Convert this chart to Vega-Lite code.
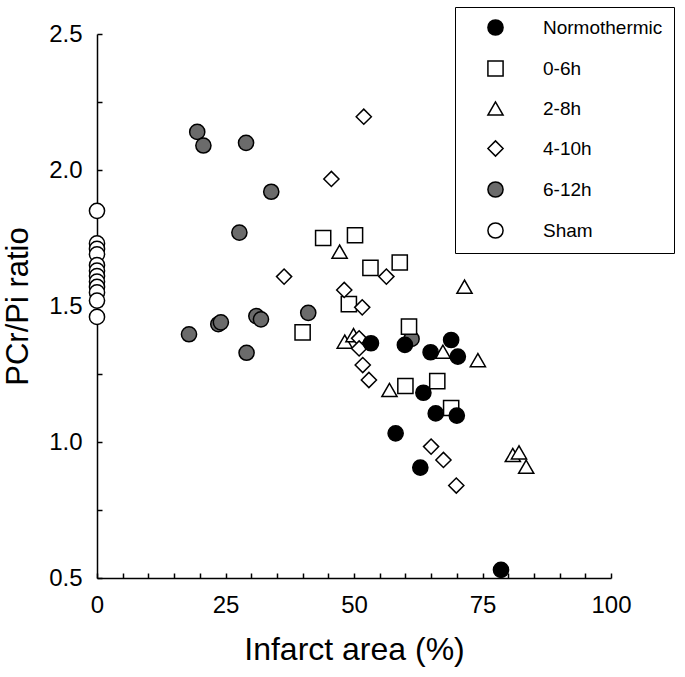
{
  "$schema": "https://vega.github.io/schema/vega-lite/v6.json",
  "autosize": "none",
  "width": 514,
  "height": 544,
  "padding": {"left": 97, "top": 34, "right": 74, "bottom": 99},
  "background": "white",
  "config": {
    "view": {"stroke": null},
    "font": "Liberation Sans",
    "axis": {
      "domainColor": "black", "domainWidth": 1.5, "tickColor": "black", "tickWidth": 1.5,
      "grid": false, "labelColor": "black", "titleColor": "black", "labelFont": "Liberation Sans",
      "titleFont": "Liberation Sans", "titleFontWeight": "normal"
    }
  },
  "data": {
    "values": [
      {"x": 0, "y": 1.85, "group": "Sham"},
      {"x": 0, "y": 1.73, "group": "Sham"},
      {"x": 0, "y": 1.71, "group": "Sham"},
      {"x": 0, "y": 1.69, "group": "Sham"},
      {"x": 0, "y": 1.65, "group": "Sham"},
      {"x": 0, "y": 1.63, "group": "Sham"},
      {"x": 0, "y": 1.61, "group": "Sham"},
      {"x": 0, "y": 1.59, "group": "Sham"},
      {"x": 0, "y": 1.57, "group": "Sham"},
      {"x": 0, "y": 1.55, "group": "Sham"},
      {"x": 0, "y": 1.52, "group": "Sham"},
      {"x": 0, "y": 1.46, "group": "Sham"},
      {"x": 19.5, "y": 2.14, "group": "6-12h"},
      {"x": 20.7, "y": 2.09, "group": "6-12h"},
      {"x": 29.0, "y": 2.10, "group": "6-12h"},
      {"x": 33.9, "y": 1.92, "group": "6-12h"},
      {"x": 27.7, "y": 1.77, "group": "6-12h"},
      {"x": 41.1, "y": 1.475, "group": "6-12h"},
      {"x": 31.0, "y": 1.463, "group": "6-12h"},
      {"x": 31.9, "y": 1.451, "group": "6-12h"},
      {"x": 23.6, "y": 1.433, "group": "6-12h"},
      {"x": 24.1, "y": 1.44, "group": "6-12h"},
      {"x": 17.9, "y": 1.396, "group": "6-12h"},
      {"x": 29.1, "y": 1.328, "group": "6-12h"},
      {"x": 61.2, "y": 1.379, "group": "6-12h"},
      {"x": 44.0, "y": 1.75, "group": "0-6h"},
      {"x": 50.2, "y": 1.76, "group": "0-6h"},
      {"x": 53.2, "y": 1.64, "group": "0-6h"},
      {"x": 58.9, "y": 1.66, "group": "0-6h"},
      {"x": 49.0, "y": 1.507, "group": "0-6h"},
      {"x": 40.0, "y": 1.403, "group": "0-6h"},
      {"x": 60.7, "y": 1.424, "group": "0-6h"},
      {"x": 60.0, "y": 1.206, "group": "0-6h"},
      {"x": 66.2, "y": 1.224, "group": "0-6h"},
      {"x": 68.9, "y": 1.125, "group": "0-6h"},
      {"x": 47.2, "y": 1.70, "group": "2-8h"},
      {"x": 71.5, "y": 1.571, "group": "2-8h"},
      {"x": 48.2, "y": 1.369, "group": "2-8h"},
      {"x": 49.9, "y": 1.393, "group": "2-8h"},
      {"x": 67.3, "y": 1.332, "group": "2-8h"},
      {"x": 74.1, "y": 1.301, "group": "2-8h"},
      {"x": 56.9, "y": 1.191, "group": "2-8h"},
      {"x": 80.9, "y": 0.952, "group": "2-8h"},
      {"x": 82.1, "y": 0.962, "group": "2-8h"},
      {"x": 83.5, "y": 0.909, "group": "2-8h"},
      {"x": 51.9, "y": 2.196, "group": "4-10h"},
      {"x": 45.6, "y": 1.967, "group": "4-10h"},
      {"x": 36.4, "y": 1.608, "group": "4-10h"},
      {"x": 56.3, "y": 1.608, "group": "4-10h"},
      {"x": 48.1, "y": 1.559, "group": "4-10h"},
      {"x": 51.6, "y": 1.495, "group": "4-10h"},
      {"x": 51.0, "y": 1.381, "group": "4-10h"},
      {"x": 51.0, "y": 1.344, "group": "4-10h"},
      {"x": 51.7, "y": 1.283, "group": "4-10h"},
      {"x": 52.9, "y": 1.228, "group": "4-10h"},
      {"x": 65.0, "y": 0.983, "group": "4-10h"},
      {"x": 67.4, "y": 0.934, "group": "4-10h"},
      {"x": 69.9, "y": 0.84, "group": "4-10h"},
      {"x": 53.3, "y": 1.363, "group": "Normothermic"},
      {"x": 59.9, "y": 1.357, "group": "Normothermic"},
      {"x": 64.9, "y": 1.33, "group": "Normothermic"},
      {"x": 68.9, "y": 1.375, "group": "Normothermic"},
      {"x": 70.2, "y": 1.314, "group": "Normothermic"},
      {"x": 63.5, "y": 1.181, "group": "Normothermic"},
      {"x": 65.9, "y": 1.105, "group": "Normothermic"},
      {"x": 70.0, "y": 1.097, "group": "Normothermic"},
      {"x": 58.1, "y": 1.032, "group": "Normothermic"},
      {"x": 62.9, "y": 0.906, "group": "Normothermic"},
      {"x": 78.6, "y": 0.53, "group": "Normothermic"}
    ]
  },
  "mark": {"type": "point", "filled": true, "stroke": "black", "strokeWidth": 1.5, "size": 230, "opacity": 1, "clip": false},
  "encoding": {
    "x": {
      "field": "x", "type": "quantitative",
      "scale": {"domain": [0, 100], "nice": false, "zero": false},
      "axis": {
        "title": "Infarct area (%)", "titleFontSize": 32, "titlePadding": 17,
        "values": [0,5,10,15,20,25,30,35,40,45,50,55,60,65,70,75,80,85,90,95,100],
        "labelExpr": "datum.value % 25 === 0 ? datum.label : ''",
        "labelFontSize": 24, "tickSize": -5, "labelPadding": 20, "labelFlush": false, "labelOverlap": false
      }
    },
    "y": {
      "field": "y", "type": "quantitative",
      "scale": {"domain": [0.5, 2.5], "nice": false, "zero": false},
      "axis": {
        "title": "PCr/Pi ratio", "titleFontSize": 31, "titlePadding": 14,
        "values": [0.5,0.75,1,1.25,1.5,1.75,2,2.25,2.5],
        "labelExpr": "datum.value % 0.5 === 0 ? format(datum.value, '.1f') : ''",
        "labelFontSize": 24, "tickSize": -5, "labelPadding": 20, "labelFlush": false, "labelOverlap": false
      }
    },
    "shape": {
      "field": "group", "type": "nominal",
      "scale": {
        "domain": ["Normothermic", "0-6h", "2-8h", "4-10h", "6-12h", "Sham"],
        "range": ["circle", "square", "triangle-up", "diamond", "circle", "circle"]
      },
      "legend": {
        "title": null, "orient": "none", "legendX": 358, "legendY": -27,
        "strokeColor": "black", "fillColor": "white",
        "padding": 11, "rowPadding": 18, "symbolSize": 230,
        "labelFontSize": 19, "labelFont": "Liberation Sans",
        "labelColor": "black", "labelOffset": 38, "symbolOffset": 20, "labelLimit": 300,
        "encode": {"symbols": {"update": {
          "fill": {"scale": "fill", "field": "value"},
          "stroke": {"value": "black"},
          "strokeWidth": {"value": 1.5},
          "opacity": {"value": 1}
        }}}
      }
    },
    "fill": {
      "field": "group", "type": "nominal",
      "legend": null,
      "scale": {
        "domain": ["Normothermic", "0-6h", "2-8h", "4-10h", "6-12h", "Sham"],
        "range": ["black", "white", "white", "white", "#6b6b6b", "white"]
      }
    }
  }
}
